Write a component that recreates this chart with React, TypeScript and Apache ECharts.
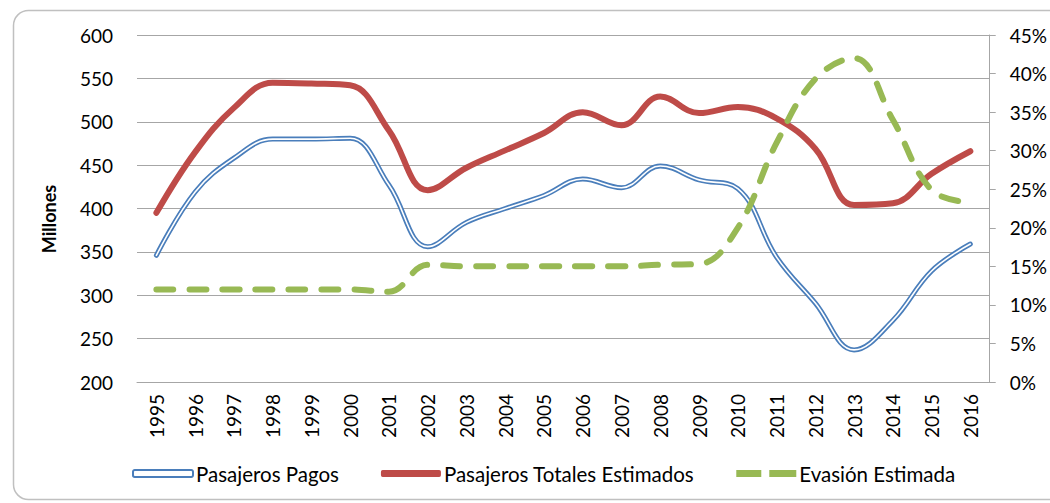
import React, { useEffect, useRef } from "react";
import * as echarts from "echarts";

const years = ["1995","1996","1997","1998","1999","2000","2001","2002","2003","2004","2005","2006","2007","2008","2009","2010","2011","2012","2013","2014","2015","2016"];
const pagos = [346, 419, 458, 480, 480, 481, 427, 356, 384, 400, 415, 434, 424, 449, 433, 423, 344, 291, 237, 271, 328, 359];
const totales = [395, 465, 516, 545, 544, 542, 490, 421, 447, 467, 487, 511, 496, 529, 510, 517, 504, 469, 404, 406, 440, 466];
const evasion = [12, 12, 12, 12, 12, 12, 11.7, 15.2, 15, 15, 15, 15, 15, 15.2, 15.3, 20, 31, 39.3, 42, 34, 24.9, 23.3];
const seriesNames = ["Pasajeros Pagos", "Pasajeros Totales Estimados", "Evasión Estimada"];

const FONT = "Lato";
const FS = 19;
const BLUE = "#4a7ebb";
const RED = "#be4b48";
const GREEN = "#98b954";
const GRID = "#a6a6a6";

export default function App() {
  const ref = useRef<HTMLDivElement>(null);
  useEffect(() => {
    document.body.style.margin = "0";
    document.body.style.overflow = "hidden";
    if (!ref.current) return;
    const chart = echarts.init(ref.current, undefined, { renderer: "svg" });
    chart.setOption({
      animation: false,
      textStyle: { fontFamily: FONT },
      grid: { left: 137, right: 53, top: 35, bottom: 121, containLabel: false },
      graphic: [
        {
          type: "rect",
          shape: { x: 13.5, y: 10.5, width: 1100, height: 489, r: 15 },
          style: { fill: "none", stroke: "#c0c0c0", lineWidth: 1.5 },
          silent: true,
          z: -1,
        },
        {
          type: "text",
          x: 49,
          y: 219,
          rotation: Math.PI / 2,
          style: {
            text: "Millones",
            font: `bold ${FS - 1}px ${FONT}`,
            fill: "#000",
            align: "center",
            verticalAlign: "middle",
          },
        },
      ],
      legend: {
        left: 132,
        top: 463,
        padding: 0,
        itemWidth: 60,
        itemHeight: 7,
        itemGap: 42,
        textStyle: { fontFamily: FONT, fontSize: 20.5, color: "#000", padding: [0, 0, 0, -2] },
        data: [
          {
            name: seriesNames[0],
            icon: "roundRect",
            itemStyle: { color: "#fff", borderColor: BLUE, borderWidth: 2 },
          },
          { name: seriesNames[1], icon: "roundRect", itemStyle: { color: RED } },
          {
            name: seriesNames[2],
            icon: "path://M0,0h25v7h-25z M33,0h27v7h-27z",
            itemStyle: { color: GREEN },
          },
        ],
      },
      xAxis: {
        type: "category",
        data: years,
        boundaryGap: true,
        axisLine: { show: true, lineStyle: { color: GRID, width: 1 } },
        axisTick: { show: false },
        axisLabel: {
          rotate: 90,
          margin: 12,
          fontFamily: FONT,
          fontSize: FS,
          color: "#000",
          interval: 0,
        },
      },
      yAxis: [
        {
          type: "value",
          min: 200,
          max: 600,
          interval: 50,
          axisLine: { show: false },
          axisTick: { show: false },
          axisLabel: { margin: 24, fontFamily: FONT, fontSize: FS, color: "#000" },
          splitLine: { lineStyle: { color: GRID, width: 1 } },
        },
        {
          type: "value",
          min: 0,
          max: 45,
          interval: 5,
          position: "right",
          axisLine: { show: true, lineStyle: { color: GRID, width: 1 } },
          axisTick: { show: true, length: 6, lineStyle: { color: GRID } },
          axisLabel: {
            margin: 20,
            fontFamily: FONT,
            fontSize: FS,
            color: "#000",
            formatter: "{value}%",
          },
          splitLine: { show: false },
        },
      ],
      series: [
        {
          name: seriesNames[0],
          type: "line",
          data: pagos,
          smooth: 0.4,
          symbol: "none",
          lineStyle: { color: BLUE, width: 5, cap: "round", join: "round" },
          itemStyle: { color: BLUE },
          z: 2,
        },
        {
          name: "_pagosInner",
          type: "line",
          data: pagos,
          smooth: 0.4,
          symbol: "none",
          silent: true,
          lineStyle: { color: "#fff", width: 1.6, cap: "round", join: "round" },
          itemStyle: { color: "#fff" },
          z: 3,
        },
        {
          name: seriesNames[1],
          type: "line",
          data: totales,
          smooth: 0.4,
          symbol: "none",
          lineStyle: { color: RED, width: 6, cap: "round", join: "round" },
          itemStyle: { color: RED },
          z: 4,
        },
        {
          name: seriesNames[2],
          type: "line",
          yAxisIndex: 1,
          data: evasion,
          smooth: 0.4,
          symbol: "none",
          lineStyle: { color: GREEN, width: 6, type: [17, 16], cap: "round", join: "round" },
          itemStyle: { color: GREEN },
          z: 5,
        },
      ],
    });
    return () => chart.dispose();
  }, []);
  return <div ref={ref} style={{ width: 1050, height: 503 }} />;
}
